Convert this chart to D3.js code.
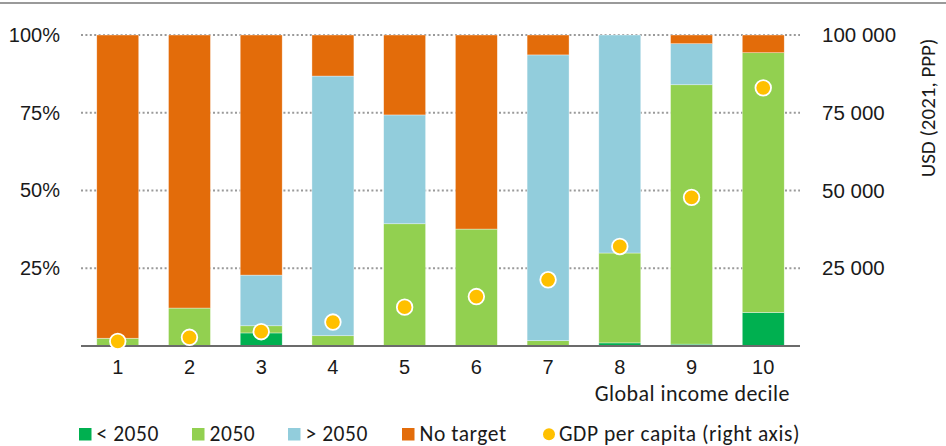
<!DOCTYPE html>
<html>
<head>
<meta charset="utf-8">
<script src="https://cdn.jsdelivr.net/npm/d3@7"></script>
<style>
  body { margin: 0; background: #fff; }
  svg { font-family: Carlito, Calibri, Lato, sans-serif; }
</style>
</head>
<body>
<div class="chart"></div>
<script>
// 資料
const deciles = ['1', '2', '3', '4', '5', '6', '7', '8', '9', '10'];
const before2050 = [0, 0, 4.2, 0, 0, 0, 0, 1.0, 0.6, 10.8];
const at2050 = [2.5, 12.2, 2.3, 3.3, 39.3, 37.6, 1.7, 28.9, 83.4, 83.5];
const after2050 = [0, 0, 16.3, 83.5, 35.0, 0, 91.9, 70.1, 13.2, 0];
const noTarget = [97.5, 87.8, 77.2, 13.2, 25.7, 62.4, 6.4, 0, 2.8, 5.7];
const gdpPerCapita = [1500, 2800, 4600, 7700, 12500, 15900, 21300, 32000, 47800, 83000];
const leftTicks = [25, 50, 75, 100];
const rightTicks = [25000, 50000, 75000, 100000];

const seriesKeys = ['< 2050', '2050', '> 2050', 'No target'];
const seriesColors = ['#00b050', '#92d050', '#92cddc', '#e36c0a'];
const dotColor = '#ffc000';

const rows = deciles.map((d, i) => ({
    decile: d,
    '< 2050': before2050[i],
    '2050': at2050[i],
    '> 2050': after2050[i],
    'No target': noTarget[i],
    gdp: gdpPerCapita[i]
}));

const svg_width = 946, svg_height = 446;
const margin = { top: 35, left: 81, right: 146, bottom: 100 };
const chart_width = svg_width - margin.left - margin.right;
const chart_height = svg_height - margin.top - margin.bottom;

const svg = d3.select('.chart').append('svg')
    .attr('width', svg_width).attr('height', svg_height);

// 頂端灰線
svg.append('line')
    .attr('x1', 0).attr('x2', svg_width)
    .attr('y1', 3).attr('y2', 3)
    .style('stroke', '#9a9a9a').style('stroke-width', 2);

const g = svg.append('g').attr('transform', `translate(${margin.left},${margin.top})`);

const xScale = d3.scaleBand().domain(deciles).range([0, chart_width]).paddingInner(0.415).paddingOuter(0.22);
const yScale = d3.scaleLinear().domain([0, 100]).range([chart_height, 0]);
const y2Scale = d3.scaleLinear().domain([0, 100000]).range([chart_height, 0]);

// 格線
g.append('g').selectAll('line')
    .data(leftTicks).enter().append('line')
    .attr('x1', 0).attr('x2', chart_width)
    .attr('y1', d => yScale(d)).attr('y2', d => yScale(d))
    .style('stroke', '#9a9a9a').style('stroke-width', 2)
    .style('stroke-dasharray', '2,2.4');

// 堆疊長條
const stack = d3.stack().keys(seriesKeys)(rows);
g.append('g').selectAll('g')
    .data(stack).enter().append('g')
    .style('fill', (d, i) => seriesColors[i])
    .selectAll('rect')
    .data(d => d).enter().append('rect')
    .attr('x', d => xScale(d.data.decile))
    .attr('width', xScale.bandwidth())
    .attr('y', d => yScale(d[1]))
    .attr('height', d => yScale(d[0]) - yScale(d[1]))
    .style('stroke', '#ffffff').style('stroke-width', 0.6).style('stroke-opacity', 0.6);

// X 軸基線
g.append('line')
    .attr('x1', 0).attr('x2', chart_width)
    .attr('y1', chart_height).attr('y2', chart_height)
    .style('stroke', '#6b6b6b').style('stroke-width', 2);

// 左軸
const yAxis = d3.axisLeft(yScale).tickValues(leftTicks).tickFormat(d => d + '%').tickSize(0).tickPadding(21);
g.append('g').call(yAxis)
    .call(s => s.select('.domain').remove())
    .selectAll('text').style('font-size', '20px').style('fill', '#1a1a1a').style('font-family', null);

// 右軸
const fmtLocale = d3.formatLocale({ decimal: '.', thousands: ' ', grouping: [3], currency: ['', ''] });
const y2Axis = d3.axisRight(y2Scale).tickValues(rightTicks).tickFormat(fmtLocale.format(',')).tickSize(0).tickPadding(22);
g.append('g').attr('transform', `translate(${chart_width},0)`).call(y2Axis)
    .call(s => s.select('.domain').remove())
    .selectAll('text').style('font-size', '20.5px').style('fill', '#1a1a1a').style('font-family', null);

// X 刻度
const xAxis = d3.axisBottom(xScale).tickSize(0).tickPadding(14);
g.append('g').attr('transform', `translate(0,${chart_height})`).call(xAxis)
    .call(s => s.select('.domain').remove())
    .selectAll('text').style('font-size', '20px').style('fill', '#1a1a1a').style('font-family', null);

// 軸標題
svg.append('text')
    .attr('x', 790).attr('y', 401)
    .attr('text-anchor', 'end')
    .style('font-size', '22px').style('letter-spacing', '0.45px').style('fill', '#1a1a1a')
    .text('Global income decile');

svg.append('text')
    .attr('transform', 'translate(935,108) rotate(-90)')
    .attr('text-anchor', 'middle')
    .style('font-size', '21px').style('fill', '#1a1a1a')
    .text('USD (2021, PPP)');

// GDP 圓點
g.append('g').selectAll('circle')
    .data(rows).enter().append('circle')
    .attr('cx', d => xScale(d.decile) + xScale.bandwidth() / 2)
    .attr('cy', d => y2Scale(d.gdp))
    .attr('r', 7.8)
    .style('fill', dotColor)
    .style('stroke', '#ffffff').style('stroke-width', 1.8);

// 圖例
const legendItems = [
    { name: '< 2050', color: seriesColors[0], x: 79, type: 'rect' },
    { name: '2050', color: seriesColors[1], x: 192, type: 'rect' },
    { name: '> 2050', color: seriesColors[2], x: 288, type: 'rect' },
    { name: 'No target', color: seriesColors[3], x: 402, type: 'rect' },
    { name: 'GDP per capita (right axis)', color: dotColor, x: 543, type: 'circle' }
];
const legend = svg.append('g').attr('transform', 'translate(0,433.5)');
const item = legend.selectAll('g').data(legendItems).enter().append('g')
    .attr('transform', d => `translate(${d.x},0)`);
item.filter(d => d.type === 'rect').append('rect')
    .attr('x', 0).attr('y', -5.5).attr('width', 12.5).attr('height', 12.5)
    .style('fill', d => d.color);
item.filter(d => d.type === 'circle').append('circle')
    .attr('cx', 6).attr('cy', 0.7).attr('r', 6)
    .style('fill', d => d.color);
item.append('text')
    .attr('x', d => d.type === 'rect' ? 17.5 : 16).attr('y', 0)
    .attr('dy', '0.35em')
    .style('font-size', '21.5px').style('letter-spacing', '0.55px').style('fill', '#1a1a1a')
    .text(d => d.name);
</script>
</body>
</html>
